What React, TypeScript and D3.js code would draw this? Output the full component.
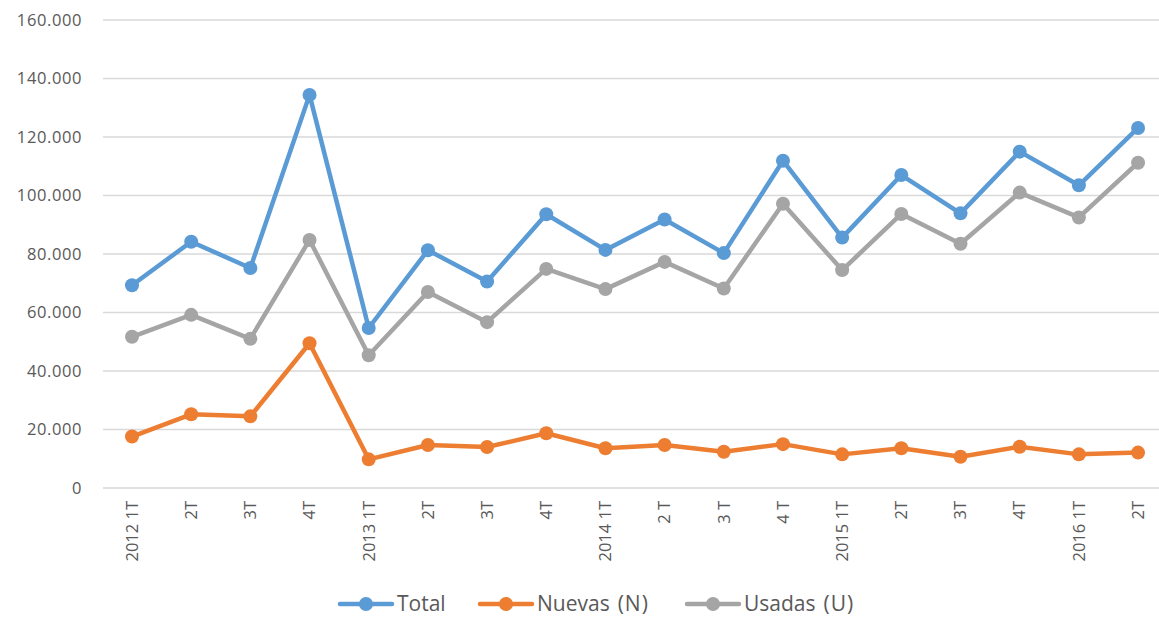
import React, { useEffect, useRef } from 'react';
import * as d3 from 'd3';

const quarters = [
  '2012 1T', '2T', '3T', '4T',
  '2013 1T', '2T', '3T', '4T',
  '2014 1T', '2 T', '3 T', '4 T',
  '2015 1T', '2T', '3T', '4T',
  '2016 1T', '2T',
];
const total = [69.3, 84.2, 75.2, 134.4, 54.7, 81.3, 70.6, 93.6, 81.4, 91.8, 80.3, 111.9, 85.6, 107.0, 93.9, 115.0, 103.5, 123.1];
const nuevas = [17.6, 25.2, 24.5, 49.5, 9.8, 14.7, 14.0, 18.7, 13.6, 14.7, 12.4, 15.0, 11.5, 13.6, 10.7, 14.1, 11.5, 12.1];
const usadas = [51.7, 59.2, 51.0, 84.8, 45.4, 67.0, 56.7, 74.9, 68.0, 77.3, 68.2, 97.2, 74.5, 93.7, 83.5, 101.0, 92.5, 111.2];
const yTicks = [0, 20, 40, 60, 80, 100, 120, 140, 160];

const seriesNames = [['Total', ''], ['Nuevas', '(N)'], ['Usadas', '(U)']];
const seriesColors = ['#5B9BD5', '#ED7D31', '#A5A5A5'];

function App() {
  const svgRef = useRef(null);
  useEffect(() => {
    if (!svgRef.current) return;
    const svg = d3.select(svgRef.current);
    svg.selectAll('*').remove();

    const width = 1159;
    const left = 103;
    const top = 20;
    const bottom = 488;
    const step = 59.18;

    const x = d3.scalePoint<number>()
      .domain(d3.range(quarters.length))
      .range([132, 132 + step * (quarters.length - 1)]);
    const y = d3.scaleLinear().domain([0, 160]).range([bottom, top]);

    const font = '"Open Sans", "Noto Sans", sans-serif';

    // gridlines
    svg.append('g')
      .selectAll('line')
      .data(yTicks)
      .join('line')
      .attr('x1', left)
      .attr('x2', width)
      .attr('y1', d => y(d))
      .attr('y2', d => y(d))
      .attr('stroke', '#D9D9D9')
      .attr('stroke-width', 1.5);

    // y labels
    svg.append('g')
      .selectAll('text')
      .data(yTicks)
      .join('text')
      .attr('x', 82)
      .attr('y', d => y(d))
      .attr('dy', '0.35em')
      .attr('text-anchor', 'end')
      .style('font-family', font)
      .style('font-size', '16.5px')
      .style('letter-spacing', '0.6px')
      .style('fill', '#595959')
      .text(d => (d === 0 ? '0' : d3.format('.3f')(d)));

    // x labels
    svg.append('g')
      .selectAll('text')
      .data(quarters)
      .join('text')
      .attr('transform', (d, i) => `translate(${x(i)},501) rotate(-90)`)
      .attr('dy', '0.35em')
      .attr('text-anchor', 'end')
      .style('font-family', font)
      .style('font-size', '16.5px')
      .style('fill', '#595959')
      .text(d => d);

    const data = [total, nuevas, usadas];
    const line = d3.line<number>()
      .x((d, i) => x(i) as number)
      .y(d => y(d));

    data.forEach((vals, k) => {
      const g = svg.append('g');
      g.append('path')
        .attr('d', line(vals))
        .attr('fill', 'none')
        .attr('stroke', seriesColors[k])
        .attr('stroke-width', 4.5)
        .attr('stroke-linejoin', 'round');
      g.selectAll('circle')
        .data(vals)
        .join('circle')
        .attr('cx', (d, i) => x(i) as number)
        .attr('cy', d => y(d))
        .attr('r', 7)
        .attr('fill', seriesColors[k]);
    });

    // legend
    const legendX = [338, 478, 685];
    const ly = 604;
    seriesNames.forEach((name, k) => {
      const g = svg.append('g').attr('transform', `translate(${legendX[k]},${ly})`);
      g.append('line')
        .attr('x1', 2)
        .attr('x2', 54)
        .attr('stroke', seriesColors[k])
        .attr('stroke-width', 4.5)
        .attr('stroke-linecap', 'round');
      g.append('circle').attr('cx', 28).attr('r', 7).attr('fill', seriesColors[k]);
      const t = g.append('text')
        .attr('x', 59)
        .attr('dy', '0.35em')
        .style('font-family', font)
        .style('font-size', '21px')
        .style('fill', '#595959')
        .text(name[0]);
      if (name[1]) {
        t.append('tspan').attr('dx', 8).style('letter-spacing', '1px').text(name[1]);
      }
    });
  }, []);

  return (
    <div style={{ position: 'absolute', left: 0, top: 0 }}>
      <svg ref={svgRef} width={1159} height={617} style={{ display: 'block', background: '#fff' }}></svg>
    </div>
  );
}

export default App;
